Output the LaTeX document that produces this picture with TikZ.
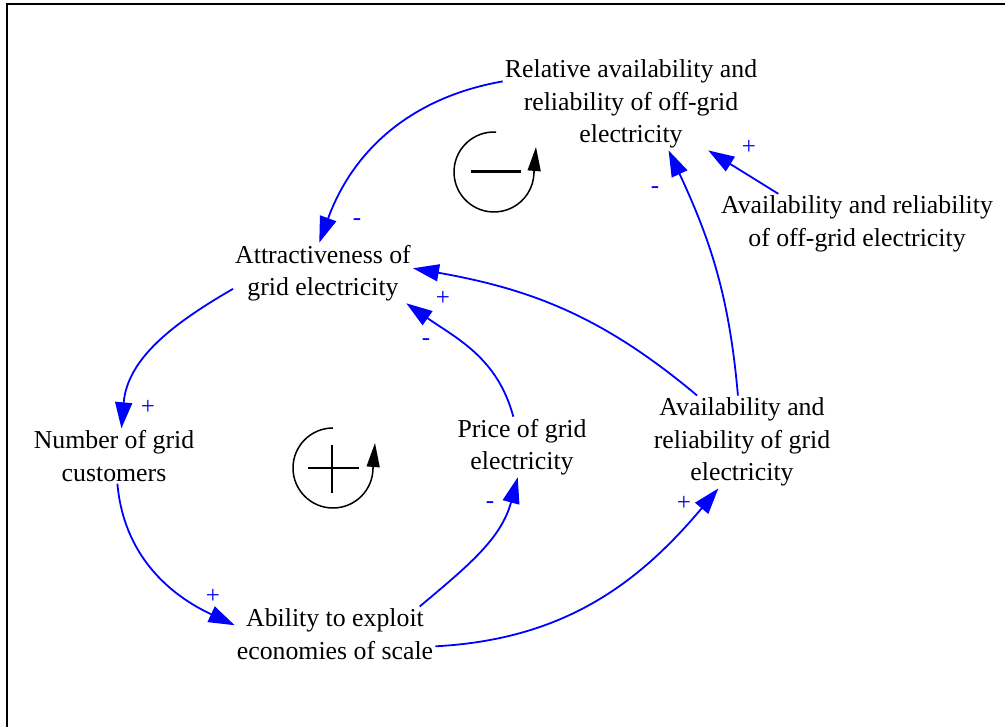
\documentclass[tikz,border=0pt]{standalone}
\usepackage{fontspec}
\setmainfont{Liberation Serif}
\usetikzlibrary{arrows.meta}
\tikzset{
  var/.style={align=center, inner sep=2pt, font=\fontsize{25.8}{32.5}\selectfont},
  lbl/.style={text=blue, inner sep=0pt, font=\fontsize{25}{27}\selectfont},
  link/.style={draw=blue, line width=1.8pt, -{Triangle[length=26pt,width=17pt]}},
  loopline/.style={draw=black, line width=1.5pt},
  looparrow/.style={draw=black, line width=1.5pt, -{Triangle[length=24pt,width=13pt]}}
}
\begin{document}
\begin{tikzpicture}[x=1pt,y=1pt]
\useasboundingbox (0,0) rectangle (1005,727);
\draw[line width=2.5pt] (7,0) -- (7,723) -- (1005,723);

\node[var] (rel) at (631,623) {Relative availability and\\reliability of off-grid\\electricity};
\node[var] (attr) at (323,454) {Attractiveness of\\grid electricity};
\node[var] (offav) at (857,503) {Availability and reliability\\of off-grid electricity};
\node[var] (num) at (114,271) {Number of grid\\customers};
\node[var] (price) at (522,280) {Price of grid\\electricity};
\node[var] (gridav) at (742,285) {Availability and\\reliability of grid\\electricity};
\node[var] (abil) at (335,93) {Ability to exploit\\economies of scale};

\draw[link] (rel.170) to[out=190, in=70] (attr.97);
\draw[link] (attr.190) to[out=210, in=85] (num.75);
\draw[link] (num.277) to[out=275, in=155] (abil.175);
\draw[link] (abil.18) to[out=40, in=255] (price.262);
\draw[link] (price.106) to[out=105, in=325] (attr.340);
\draw[link] (gridav.134) to[out=140, in=350] (attr.3);
\draw[link] (gridav.95) to[out=95, in=295] (rel.309);
\draw[link] (offav.159) -- (rel.329);
\draw[link] (abil.353) to[out=3, in=230] (gridav.243);

\node[lbl] (s1) at (357,505) {-};
\node[lbl] (s2) at (148,320) {+};
\node[lbl] (s3) at (213,131) {+};
\node[lbl] (s4) at (490,222) {-};
\node[lbl] (s5) at (443,429) {+};
\node[lbl] (s6) at (426,385) {-};
\node[lbl] (s7) at (655,537) {-};
\node[lbl] (s8) at (749,580) {+};
\node[lbl] (s9) at (684,224) {+};

% balancing loop
\draw[loopline] (494,555) ++(87:40) arc[start angle=87, end angle=360, radius=40];
\draw[looparrow] (534,554) -- (536,580);
\draw[line width=3pt] (471,555) -- (521,555);
% reinforcing loop
\draw[loopline] (333,259) ++(90:40) arc[start angle=90, end angle=360, radius=40];
\draw[looparrow] (373,258) -- (375,284);
\draw[line width=2.5pt] (308,259) -- (359,259);
\draw[line width=2.5pt] (332,282) -- (332,234);
\end{tikzpicture}
\end{document}
